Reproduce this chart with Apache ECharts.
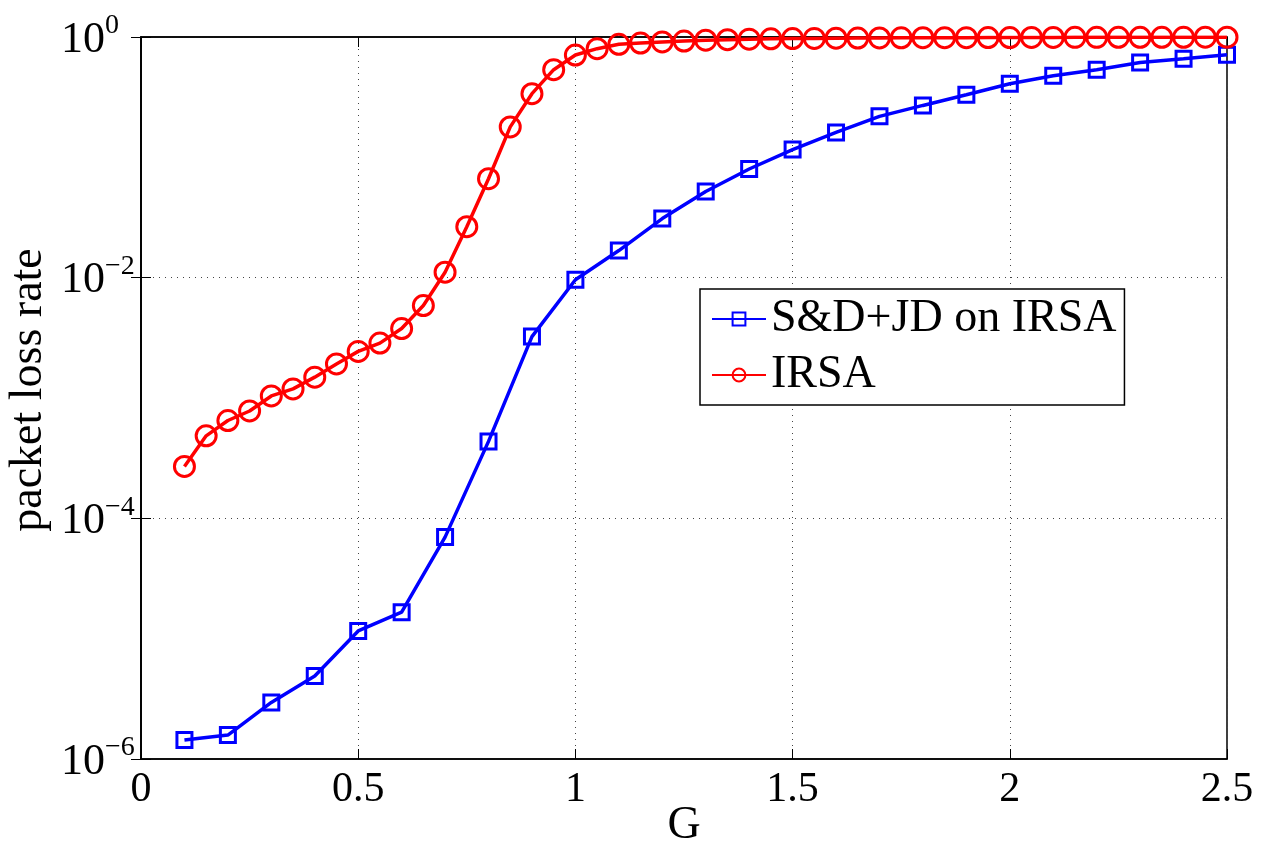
<!DOCTYPE html>
<html>
<head>
<meta charset="utf-8">
<script src="https://cdn.jsdelivr.net/npm/echarts@6/dist/echarts.min.js"></script>
<style>
  html, body { margin: 0; padding: 0; background: #fff; }
  #chart { width: 1261px; height: 845px; }
</style>
</head>
<body>
<div id="chart"></div>
<script>
// Offered load G for each curve
const gSD = [0.1, 0.2, 0.3, 0.4, 0.5, 0.6, 0.7, 0.8, 0.9, 1.0, 1.1, 1.2, 1.3,
  1.4, 1.5, 1.6, 1.7, 1.8, 1.9, 2.0, 2.1, 2.2, 2.3, 2.4, 2.5];
const lossSD = [1.44e-6, 1.58e-6, 2.95e-6, 4.9e-6, 1.16e-5, 1.66e-5, 6.98e-5,
  4.36e-4, 3.24e-3, 9.6e-3, 0.0168, 0.031, 0.052, 0.080, 0.116, 0.161, 0.219,
  0.270, 0.331, 0.409, 0.477, 0.535, 0.615, 0.660, 0.713];

const gIRSA = [0.1, 0.15, 0.2, 0.25, 0.3, 0.35, 0.4, 0.45, 0.5, 0.55, 0.6, 0.65,
  0.7, 0.75, 0.8, 0.85, 0.9, 0.95, 1.0, 1.05, 1.1, 1.15, 1.2, 1.25, 1.3, 1.35,
  1.4, 1.45, 1.5, 1.55, 1.6, 1.65, 1.7, 1.75, 1.8, 1.85, 1.9, 1.95, 2.0, 2.05,
  2.1, 2.15, 2.2, 2.25, 2.3, 2.35, 2.4, 2.45, 2.5];
const lossIRSA = [2.7e-4, 4.85e-4, 6.5e-4, 7.8e-4, 1.04e-3, 1.19e-3, 1.49e-3,
  1.92e-3, 2.44e-3, 2.86e-3, 3.78e-3, 5.87e-3, 0.0111, 0.0265, 0.0664, 0.179,
  0.338, 0.535, 0.708, 0.80, 0.87, 0.89, 0.91, 0.925, 0.94, 0.95, 0.96, 0.965,
  0.97, 0.974, 0.977, 0.98, 0.982, 0.984, 0.986, 0.987, 0.988, 0.989, 0.99,
  0.991, 0.992, 0.993, 0.993, 0.994, 0.994, 0.995, 0.995, 0.996, 0.996];

const seriesNames = ['S&D+JD on IRSA', 'IRSA'];
const xTicks = [0, 0.5, 1, 1.5, 2, 2.5];
const yExponents = [-6, -4, -2, 0];

const serif = '"Liberation Serif", "Times New Roman", serif';

const pairs = (xs, ys) => xs.map((x, i) => [x, ys[i]]);

const chart = echarts.init(document.getElementById('chart'), null, { renderer: 'canvas' });

const dotted = { color: '#444', type: [1, 5], width: 1 };
const blackLine = { color: '#000', width: 1.5 };
const innerTick = { show: true, inside: true, length: 10, lineStyle: { color: '#000', width: 1 } };

chart.setOption({
  animation: false,
  backgroundColor: '#fff',
  grid: {
    left: 141, right: 34, top: 37, bottom: 86,
    containLabel: false, outerBoundsMode: 'none',
    show: true, borderColor: '#000', borderWidth: 1.5, backgroundColor: 'transparent'
  },
  legend: {
    left: 700, top: 289,
    orient: 'vertical',
    backgroundColor: '#fff',
    borderColor: '#000',
    borderWidth: 1.5,
    borderRadius: 0,
    padding: [7, 8, 7, 11],
    itemGap: 10,
    itemWidth: 54,
    itemHeight: 16,
    textStyle: { fontFamily: serif, fontSize: 46, color: '#000' },
    data: seriesNames.map(n => ({ name: n }))
  },
  xAxis: [
    {
      type: 'value', min: 0, max: 2.5, interval: 0.5,
      name: 'G', nameLocation: 'middle', nameGap: 44, nameMoveOverlap: false,
      nameTextStyle: { fontFamily: serif, fontSize: 46, color: '#000' },
      axisLine: { show: true, onZero: false, lineStyle: blackLine },
      axisTick: innerTick,
      axisLabel: {
        fontFamily: serif, fontSize: 42, color: '#000', margin: 10,
        formatter: v => xTicks.includes(+v.toFixed(2)) ? String(+v.toFixed(2)) : ''
      },
      splitLine: { show: true, lineStyle: dotted }
    },
    {
      type: 'value', min: 0, max: 2.5, interval: 0.5, position: 'top',
      axisLine: { show: true, onZero: false, lineStyle: blackLine },
      axisTick: innerTick,
      axisLabel: { show: false },
      splitLine: { show: false }
    }
  ],
  yAxis: [
    {
      type: 'log', logBase: 10, min: 1e-6, max: 1, interval: 2,
      name: 'packet loss rate', nameLocation: 'middle', nameGap: 89, nameRotate: 90,
      nameMoveOverlap: false,
      nameTextStyle: { fontFamily: serif, fontSize: 46, color: '#000', padding: [0, 0, 0, 16] },
      axisLine: { show: true, lineStyle: blackLine },
      axisTick: innerTick,
      axisLabel: {
        margin: 80,
        align: 'left',
        formatter: v => {
          const e = Math.round(Math.log10(v));
          if (!yExponents.includes(e)) return '';
          return '{b|10}{s|' + (e === 0 ? '0' : '\u2212' + (-e)) + '}';
        },
        rich: {
          b: { fontFamily: serif, fontSize: 44, color: '#000', verticalAlign: 'bottom', padding: [6, 0, 0, 0] },
          s: { fontFamily: serif, fontSize: 28, color: '#000', verticalAlign: 'top' }
        }
      },
      splitLine: { show: true, lineStyle: dotted }
    },
    {
      type: 'log', logBase: 10, min: 1e-6, max: 1, interval: 2, position: 'right',
      axisLine: { show: true, lineStyle: blackLine },
      axisTick: innerTick,
      axisLabel: { show: false },
      splitLine: { show: false }
    }
  ],
  series: [
    {
      name: seriesNames[0], type: 'line',
      data: pairs(gSD, lossSD),
      symbol: 'rect', symbolSize: 15, showAllSymbol: true,
      color: '#0000ff',
      lineStyle: { color: '#0000ff', width: 3.5 },
      itemStyle: { color: 'transparent', borderColor: '#0000ff', borderWidth: 3 },
      z: 3
    },
    {
      name: seriesNames[1], type: 'line',
      data: pairs(gIRSA, lossIRSA),
      symbol: 'circle', symbolSize: 20, showAllSymbol: true,
      color: '#ff0000',
      lineStyle: { color: '#ff0000', width: 3.5 },
      itemStyle: { color: 'transparent', borderColor: '#ff0000', borderWidth: 3 },
      z: 4
    }
  ]
});
</script>
</body>
</html>
